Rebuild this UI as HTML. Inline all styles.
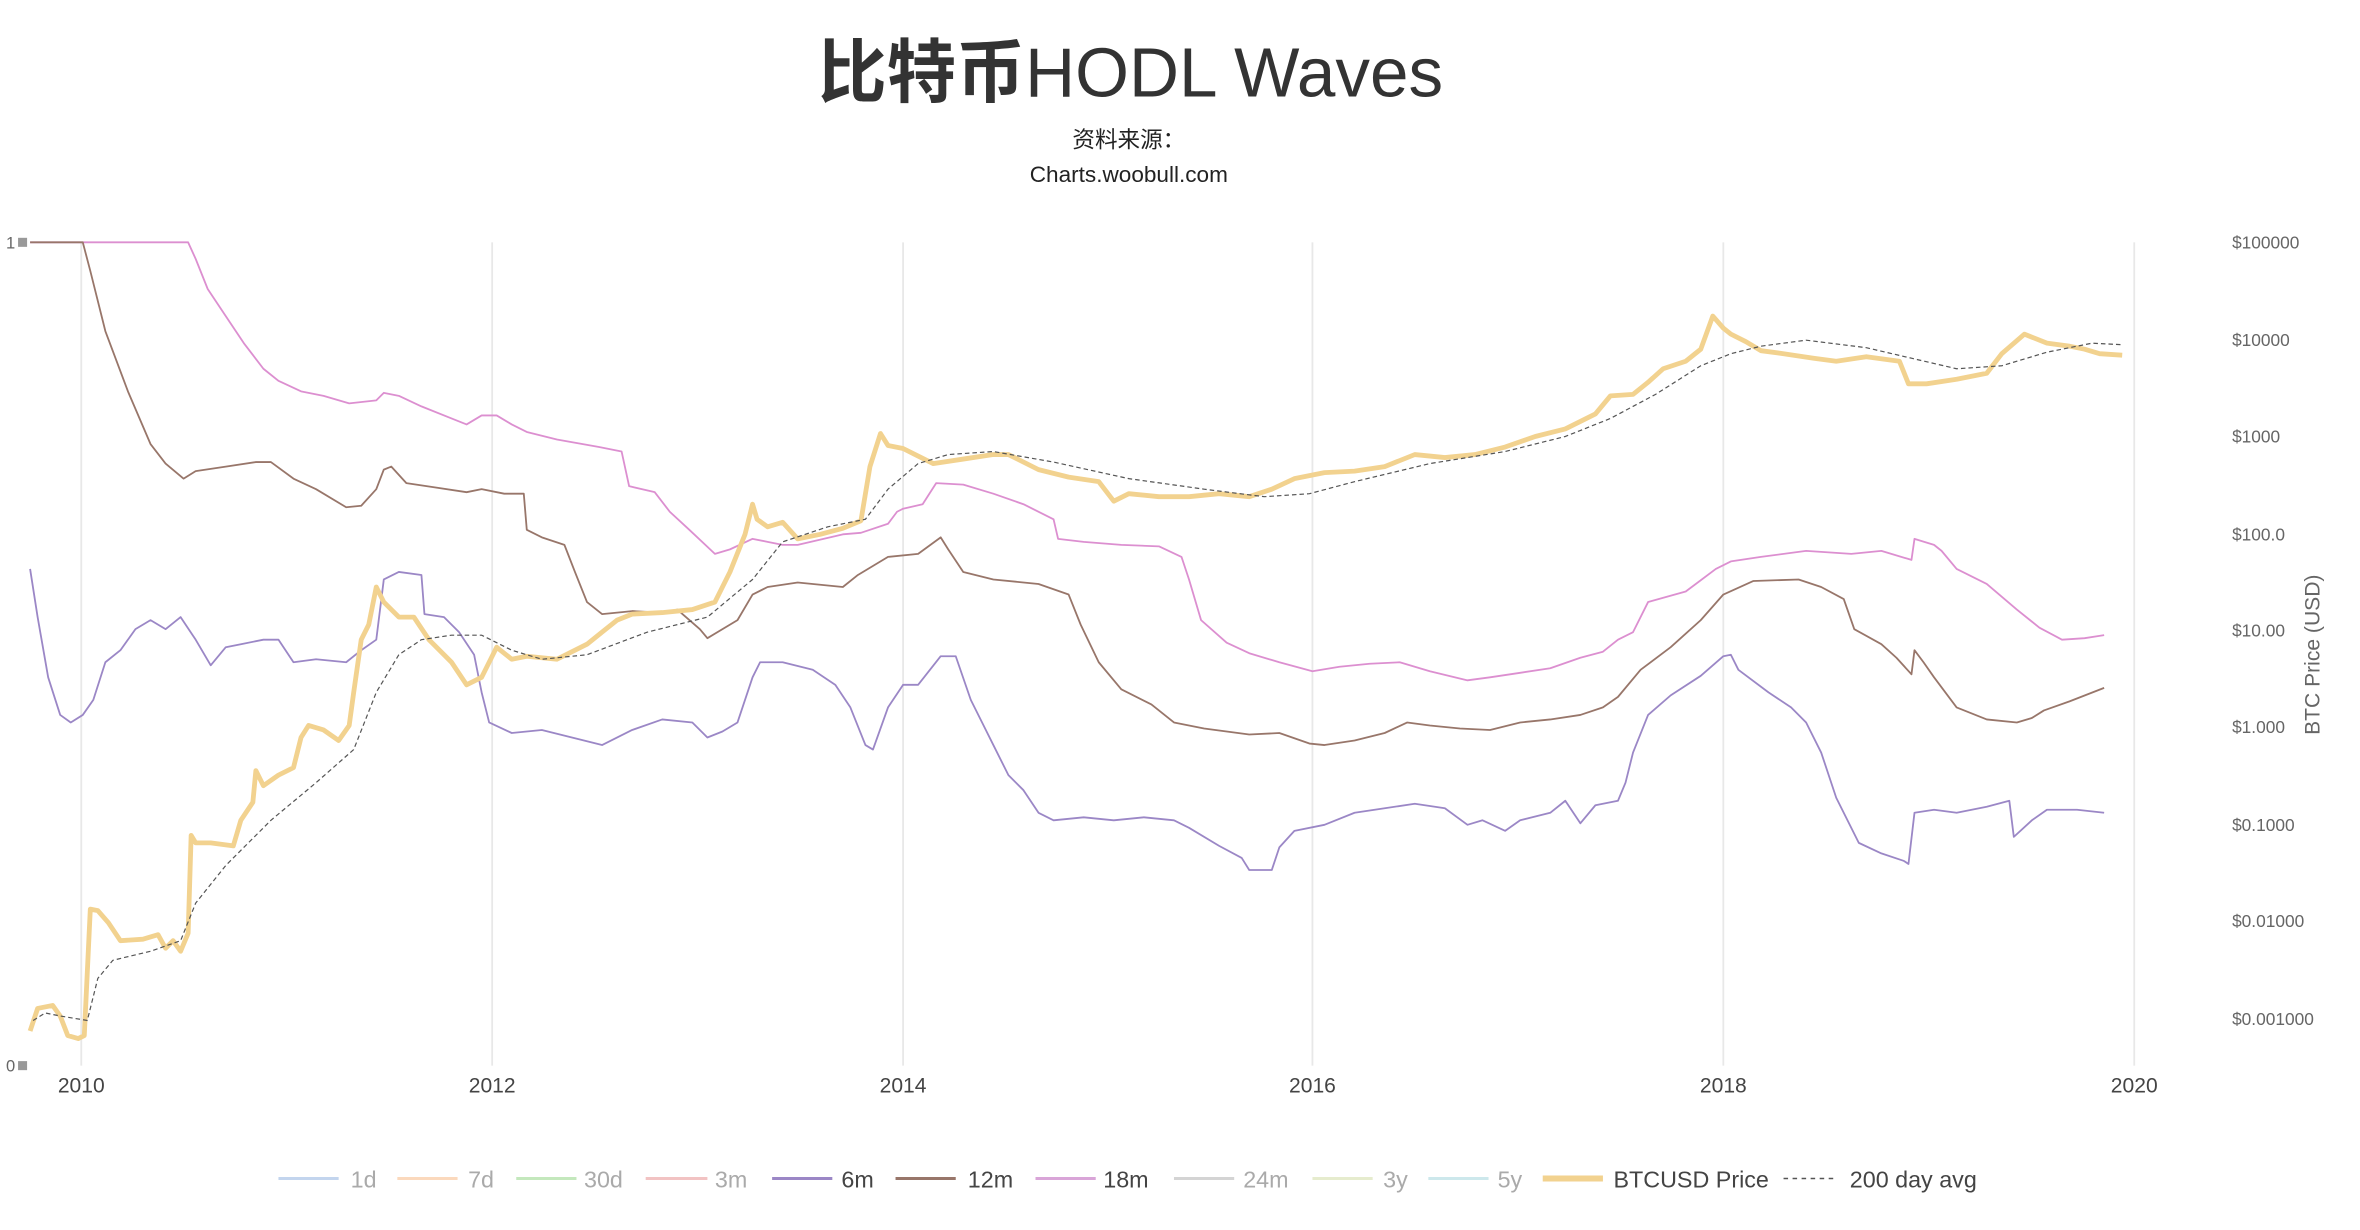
<!DOCTYPE html>
<html><head><meta charset="utf-8"><style>
html,body{margin:0;padding:0;background:#fff;}
svg{display:block;}
text{font-family:"Liberation Sans","Noto Sans CJK SC",sans-serif;}
</style></head><body>
<svg width="2360" height="1230" viewBox="0 0 1568 817.2" preserveAspectRatio="none">
<rect width="1568" height="817.2" fill="#fff"/>
<text x="751" y="64" text-anchor="middle" font-size="46" fill="#333"><tspan font-weight="bold" font-family="Noto Sans CJK SC, sans-serif">比特币</tspan><tspan font-weight="normal">HODL Waves</tspan></text>
<text x="750" y="98" text-anchor="middle" font-size="15" fill="#222" font-family="Noto Sans CJK SC, sans-serif">资料来源：</text>
<text x="750" y="121" text-anchor="middle" font-size="15" fill="#222">Charts.woobull.com</text>
<g stroke="#e8e8e8" stroke-width="1.2">
<line x1="54" y1="161" x2="54" y2="708"/><line x1="327" y1="161" x2="327" y2="708"/><line x1="600" y1="161" x2="600" y2="708"/><line x1="872" y1="161" x2="872" y2="708"/><line x1="1145" y1="161" x2="1145" y2="708"/><line x1="1418" y1="161" x2="1418" y2="708"/>
</g>
<g font-size="14" fill="#444" text-anchor="middle">
<text x="54" y="726">2010</text><text x="327" y="726">2012</text><text x="600" y="726">2014</text><text x="872" y="726">2016</text><text x="1145" y="726">2018</text><text x="1418" y="726">2020</text>
</g>
<g font-size="11" fill="#666">
<text x="4" y="165">1</text><rect x="12" y="158" width="6" height="6" fill="#999"/>
<text x="4" y="712">0</text><rect x="12" y="705" width="6" height="6" fill="#999"/>
</g>
<g font-size="11.5" fill="#666">
<text x="1483" y="165">$100000</text><text x="1483" y="230">$10000</text><text x="1483" y="294">$1000</text><text x="1483" y="359">$100.0</text><text x="1483" y="423">$10.00</text><text x="1483" y="487">$1.000</text><text x="1483" y="552">$0.1000</text><text x="1483" y="616">$0.01000</text><text x="1483" y="681">$0.001000</text>
</g>
<text transform="translate(1541,435) rotate(-90)" text-anchor="middle" font-size="14" fill="#666">BTC Price (USD)</text>
<g fill="none" stroke-linejoin="round">
<polyline stroke="#dc8fd0" stroke-width="1.2" points="20,161 125,161 130,172 138,192 150,210 162,228 175,245 185,253 200,260 215,263 232,268 250,266 255,261 265,263 280,270 300,278 310,282 320,276 330,276 340,282 350,287 370,292 398,297 413,300 418,323 435,327 445,340 458,352 475,368 485,365 500,358 510,360 520,362 530,362 560,355 572,354 590,348 596,340 600,338 613,335 622,321 640,322 660,328 680,335 700,345 703,358 720,360 745,362 770,363 785,370 790,385 798,412 815,427 830,434 850,440 872,446 890,443 910,441 930,440 950,446 975,452 990,450 1010,447 1030,444 1050,437 1065,433 1075,425 1085,420 1095,400 1120,393 1128,387 1140,378 1150,373 1170,370 1200,366 1230,368 1250,366 1270,372 1272,358 1285,362 1290,366 1300,378 1320,388 1340,405 1350,413 1355,417 1370,425 1385,424 1398,422"/>
<polyline stroke="#98766a" stroke-width="1.2" points="20,161 55,161 60,180 70,220 85,260 100,295 110,308 122,318 130,313 150,310 170,307 180,307 195,318 210,325 230,337 240,336 250,325 255,312 260,310 270,321 290,324 310,327 320,325 335,328 348,328 350,352 360,357 375,362 382,380 390,400 400,408 420,406 440,407 450,405 465,418 470,424 490,412 500,395 510,390 530,387 560,390 570,382 590,370 610,368 625,357 630,365 640,380 660,385 690,388 710,395 718,415 730,440 745,458 765,468 780,480 800,484 830,488 850,487 870,494 880,495 900,492 920,487 935,480 950,482 970,484 990,485 1010,480 1030,478 1050,475 1065,470 1075,463 1090,445 1110,430 1130,412 1145,395 1165,386 1195,385 1210,390 1225,398 1232,418 1250,428 1260,437 1270,448 1272,432 1278,440 1285,450 1300,470 1320,478 1340,480 1350,477 1358,472 1375,466 1398,457"/>
<polyline stroke="#9b87c6" stroke-width="1.2" points="20,378 25,410 32,450 40,475 47,480 55,475 62,465 70,440 80,432 90,418 100,412 110,418 120,410 130,425 140,442 150,430 160,428 175,425 185,425 195,440 210,438 230,440 240,432 250,425 255,385 265,380 280,382 282,408 295,410 305,420 315,435 320,460 325,480 340,487 360,485 380,490 400,495 420,485 440,478 460,480 470,490 480,486 490,480 500,450 505,440 520,440 540,445 555,455 565,470 575,495 580,498 590,470 600,455 610,455 625,436 635,436 645,465 655,485 660,495 670,515 680,525 690,540 700,545 720,543 740,545 760,543 780,545 790,550 810,562 825,570 830,578 845,578 850,563 860,552 880,548 900,540 920,537 940,534 960,537 975,548 985,545 1000,552 1010,545 1030,540 1040,532 1050,547 1060,535 1075,532 1080,520 1085,500 1095,475 1110,462 1130,449 1145,436 1150,435 1155,445 1175,460 1190,470 1200,480 1210,500 1220,530 1235,560 1250,567 1265,572 1268,574 1272,540 1285,538 1300,540 1320,536 1335,532 1338,556 1350,545 1360,538 1380,538 1398,540"/>
<polyline stroke="#f2d28f" stroke-width="3.2" points="20,685 25,670 35,668 40,675 45,688 52,690 56,688 60,604 65,605 72,613 80,625 95,624 105,621 110,630 115,625 120,632 125,620 127,555 130,560 140,560 155,562 160,545 168,533 170,512 175,522 185,515 195,510 200,490 205,482 215,485 225,492 232,482 235,460 240,425 245,415 250,390 255,400 265,410 275,410 285,425 300,440 310,455 320,450 330,430 340,438 350,436 370,438 390,428 400,420 410,412 420,408 440,407 460,405 475,400 485,380 495,355 500,335 503,345 510,350 520,347 530,358 545,355 560,351 572,346 578,310 585,288 590,296 600,298 610,303 620,308 640,305 660,302 670,302 690,312 710,317 730,320 740,333 750,328 770,330 790,330 810,328 830,330 845,325 860,318 880,314 900,313 920,310 940,302 960,304 980,302 1000,297 1020,290 1040,285 1060,275 1070,263 1085,262 1095,254 1105,245 1120,240 1130,232 1138,210 1145,218 1150,222 1160,227 1170,233 1185,235 1205,238 1220,240 1240,237 1262,240 1268,255 1280,255 1300,252 1310,250 1320,248 1330,235 1345,222 1360,228 1375,230 1385,232 1395,235 1410,236"/>
<polyline stroke="#555" stroke-width="0.8" stroke-dasharray="3,2" points="22,678 30,673 40,675 58,678 65,650 75,638 100,632 120,625 130,600 150,575 180,545 210,520 235,498 250,460 265,435 280,425 300,422 320,422 340,432 360,438 390,435 430,420 470,410 500,385 520,360 550,350 575,345 590,325 610,308 630,302 660,300 700,307 750,318 800,325 840,330 870,328 900,320 950,308 1000,300 1040,290 1070,278 1100,262 1130,243 1150,235 1170,230 1200,226 1240,231 1270,238 1300,245 1330,243 1360,234 1390,228 1410,229"/>
</g>
<g stroke-width="2">
<line x1="185" y1="783" x2="225" y2="783" stroke="#c3d5ee"/>
<line x1="264" y1="783" x2="304" y2="783" stroke="#fbd9bd"/>
<line x1="343" y1="783" x2="383" y2="783" stroke="#c4e8bd"/>
<line x1="429" y1="783" x2="470" y2="783" stroke="#f2c3c3"/>
<line x1="513" y1="783" x2="553" y2="783" stroke="#9b87c6"/>
<line x1="595" y1="783" x2="635" y2="783" stroke="#98766a"/>
<line x1="688" y1="783" x2="728" y2="783" stroke="#d9a5d8"/>
<line x1="780" y1="783" x2="820" y2="783" stroke="#d4d4d4"/>
<line x1="872" y1="783" x2="912" y2="783" stroke="#e6ecce"/>
<line x1="949" y1="783" x2="989" y2="783" stroke="#cde8ec"/>
<line x1="1025" y1="783" x2="1065" y2="783" stroke="#f2d28f" stroke-width="4"/>
<line x1="1185" y1="783" x2="1219" y2="783" stroke="#555" stroke-width="1" stroke-dasharray="3,3"/>
</g>
<g font-size="15.5" fill="#aaa">
<text x="233" y="789">1d</text><text x="311" y="789">7d</text><text x="388" y="789">30d</text><text x="475" y="789">3m</text>
<text x="559" y="789" fill="#444">6m</text><text x="643" y="789" fill="#444">12m</text><text x="733" y="789" fill="#444">18m</text>
<text x="826" y="789">24m</text><text x="919" y="789">3y</text><text x="995" y="789">5y</text>
<text x="1072" y="789" fill="#444">BTCUSD Price</text><text x="1229" y="789" fill="#444">200 day avg</text>
</g>
</svg>
</body></html>
